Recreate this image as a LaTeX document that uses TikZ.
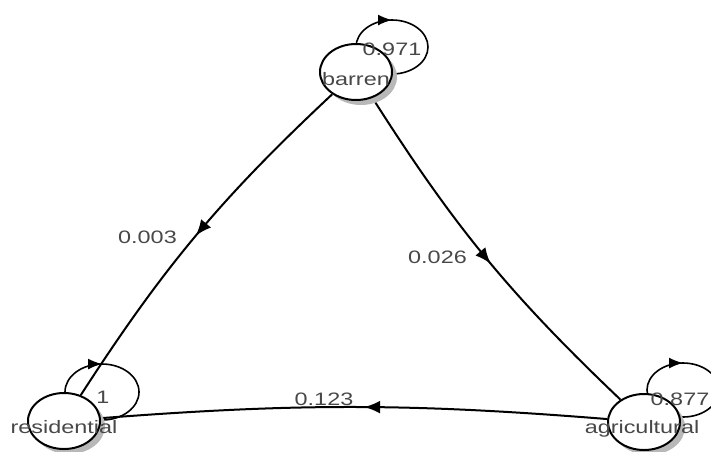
\documentclass[tikz,border=0pt]{standalone}
\usepackage{fontspec}
\setmainfont{Liberation Sans}
\usetikzlibrary{shapes.geometric,arrows.meta,decorations.markings,shadows,backgrounds}
\definecolor{txt}{RGB}{72,72,72}
\newcommand\wtext[1]{\scalebox{1.3}[1]{#1}}
\begin{document}
\begin{tikzpicture}[x=1pt,y=1pt,
  vtx/.style={ellipse, draw=black, line width=2pt, fill=white,
    minimum width=72pt, minimum height=56pt, inner sep=0pt,
    drop shadow={shadow xshift=5pt, shadow yshift=-5pt, fill=black!28, opacity=1}},
  lbl/.style={text=txt, font=\fontsize{18}{20}\selectfont, inner sep=0pt, anchor=base},
  edge/.style={draw=black, line width=2pt},
  midarrow/.style={decoration={markings, mark=at position #1 with {\arrow{Latex[length=16pt,width=13pt]}}}, postaction={decorate}},
  loopst/.style={draw=black, line width=1.6pt,
    decoration={markings, mark=at position 0.25 with {\arrowreversed{Latex[length=14pt,width=11pt]}}}, postaction={decorate}},
]
\useasboundingbox (0,0) rectangle (711,-451);

% vertices
\node[vtx] (b) at (356,-72) {};
\node[vtx] (r) at (64,-421) {};
\node[vtx] (a) at (644,-422) {};

% edges and loops below the vertices
\begin{scope}[on background layer]
  \draw[edge, midarrow=0.5] (b) to[bend right=7] (r);
  \draw[edge, midarrow=0.52] (b) to[bend right=7] (a);
  \draw[edge, midarrow=0.48] (a) to[bend right=4.5] (r);
  \draw[loopst] ([shift={(36,25)}]b.center) ellipse [x radius=36, y radius=27];
  \draw[loopst] ([shift={(38,29)}]r.center) ellipse [x radius=37, y radius=28];
  \draw[loopst] ([shift={(39,32)}]a.center) ellipse [x radius=36, y radius=27];
\end{scope}

% vertex labels
\node[lbl] (bl) at ([yshift=-13]b.center) {\wtext{barren}};
\node[lbl] (rl) at ([yshift=-12]r.center) {\wtext{residential}};
\node[lbl] (al) at ([shift={(-2,-11)}]a.center) {\wtext{agricultural}};

% loop labels
\node[lbl] (bll) at (392,-55) {\wtext{0.971}};
\node[lbl] (rll) at (103,-403) {\wtext{1}};
\node[lbl] (all) at (680,-405) {\wtext{0.877}};

% edge labels
\node[lbl] (e1) at (147.5,-243) {\wtext{0.003}};
\node[lbl] (e2) at (437.5,-263) {\wtext{0.026}};
\node[lbl] (e3) at (324,-405) {\wtext{0.123}};
\end{tikzpicture}
\end{document}
